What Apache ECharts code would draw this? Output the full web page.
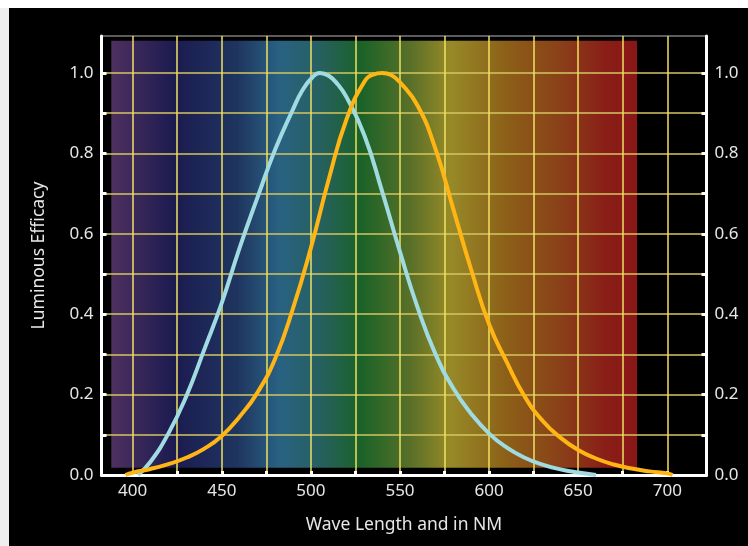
<!DOCTYPE html>
<html>
<head>
<meta charset="utf-8">
<script src="https://cdn.jsdelivr.net/npm/echarts@6/dist/echarts.min.js"></script>
<style>
  html, body { margin: 0; padding: 0; background: #fff; }
  #leftband { position: absolute; left: 0; top: 8px; width: 9px; bottom: 0; background: #efefef; }
  #frame { position: absolute; left: 9px; top: 8px; right: 0; bottom: 0; background: #000; }
  #chart { position: absolute; left: 0; top: 0; width: 748px; height: 546px; }
</style>
</head>
<body>
<div id="leftband"></div>
<div id="frame"></div>
<div id="chart"></div>
<script>
// scotopic (night) curve, cyan
const scotopicNm  = [403, 410, 420, 430, 440, 450, 460, 470, 480, 490, 495, 500, 505, 510, 515, 520, 530, 540, 550, 560, 570, 580, 590, 600, 610, 620, 630, 640, 650, 660];
const scotopicVal = [0.0, 0.033, 0.103, 0.195, 0.31, 0.428, 0.565, 0.69, 0.81, 0.91, 0.955, 0.985, 1.0, 0.993, 0.972, 0.94, 0.845, 0.705, 0.555, 0.415, 0.30, 0.215, 0.152, 0.103, 0.068, 0.043, 0.026, 0.014, 0.006, 0.0];

// photopic (day) curve, orange
const photopicNm  = [396, 400, 410, 420, 430, 440, 450, 460, 470, 480, 490, 500, 510, 520, 530, 535, 540, 545, 550, 560, 570, 580, 590, 600, 610, 620, 630, 640, 650, 660, 670, 680, 690, 700, 703];
const photopicVal = [0.0, 0.006, 0.015, 0.027, 0.043, 0.065, 0.097, 0.145, 0.205, 0.29, 0.415, 0.565, 0.735, 0.885, 0.978, 0.996, 1.0, 0.995, 0.977, 0.918, 0.81, 0.66, 0.51, 0.375, 0.28, 0.195, 0.135, 0.093, 0.062, 0.041, 0.026, 0.016, 0.009, 0.004, 0.0];

// spectrum band behind the curves
const spectrumNm = [388, 683];
const spectrumV  = [0.018, 1.08];
const spectrumStops = [
  [0.00, '#4e3060'], [0.12, '#1b1b50'], [0.24, '#1f3560'], [0.32, '#296282'],
  [0.40, '#26605e'], [0.475, '#1a6228'], [0.57, '#5a7028'], [0.645, '#978a28'],
  [0.75, '#8c6018'], [0.855, '#8a4018'], [0.94, '#891e18'], [1.00, '#8a1616']
];

const xTicks  = [400, 425, 450, 475, 500, 525, 550, 575, 600, 625, 650, 675, 700];
const xLabels = [400, 450, 500, 550, 600, 650, 700];
const yTicks  = [0, 0.1, 0.2, 0.3, 0.4, 0.5, 0.6, 0.7, 0.8, 0.9, 1.0];
const yLabels = [0, 0.2, 0.4, 0.6, 0.8, 1.0];

const FONT = 'Noto Sans';
const TXT = '#e6e6e6';

const chart = echarts.init(document.getElementById('chart'), null, { renderer: 'canvas' });

const yAxisBase = {
  type: 'value',
  min: 0,
  max: 1.092,
  z: 1,
  axisLine: { show: true, lineStyle: { color: '#fff', width: 3 } },
  axisTick: { show: true, inside: true, length: 5, customValues: yTicks, lineStyle: { color: '#fff', width: 3 } },
  axisLabel: {
    customValues: yLabels, color: TXT, fontSize: 17, fontFamily: FONT, margin: 8,
    formatter: v => v.toFixed(1)
  }
};

chart.setOption({
  backgroundColor: 'transparent',
  animation: false,
  grid: {
    left: 101.5, right: 41.5, top: 36, bottom: 71,
    show: true, backgroundColor: '#000', borderColor: '#b8b8b8', borderWidth: 1
  },
  xAxis: {
    type: 'value',
    min: 382.5,
    max: 722,
    z: 1,
    name: 'Wave Length and in NM',
    nameLocation: 'middle',
    nameGap: 41,
    nameTextStyle: { color: TXT, fontSize: 17.5, fontFamily: FONT },
    axisLine: { show: true, onZero: false, lineStyle: { color: '#fff', width: 3 } },
    axisTick: { show: true, inside: true, length: 4, customValues: xTicks, lineStyle: { color: '#fff', width: 3 } },
    axisLabel: { customValues: xLabels, color: TXT, fontSize: 17, fontFamily: FONT, margin: 8 },
    splitLine: { show: true, lineStyle: { color: '#f0e060', width: 1.5 } }
  },
  yAxis: [
    Object.assign({}, yAxisBase, {
      position: 'left',
      name: 'Luminous Efficacy',
      nameLocation: 'middle',
      nameGap: 53.5,
      nameTextStyle: { color: TXT, fontSize: 17.5, fontFamily: FONT },
      splitLine: { show: true, lineStyle: { color: '#d4c662', width: 1.5 } }
    }),
    Object.assign({}, yAxisBase, {
      position: 'right',
      splitLine: { show: false }
    })
  ],
  series: [
    {
      name: 'spectrum',
      type: 'line',
      data: [],
      z: 0,
      silent: true,
      markArea: {
        silent: true,
        z: 0.5,
        itemStyle: {
          color: {
            type: 'linear', x: 0, y: 0, x2: 1, y2: 0,
            colorStops: spectrumStops.map(s => ({ offset: s[0], color: s[1] }))
          }
        },
        data: [[
          { coord: [spectrumNm[0], spectrumV[1]] },
          { coord: [spectrumNm[1], spectrumV[0]] }
        ]]
      }
    },
    {
      name: 'Scotopic',
      type: 'line',
      smooth: 0.5,
      symbol: 'none',
      z: 3,
      lineStyle: { color: '#a0dbe2', width: 4 },
      data: scotopicNm.map((x, i) => [x, scotopicVal[i]])
    },
    {
      name: 'Photopic',
      type: 'line',
      smooth: 0.5,
      symbol: 'none',
      z: 3,
      lineStyle: { color: '#ffb514', width: 4 },
      data: photopicNm.map((x, i) => [x, photopicVal[i]])
    }
  ]
});
</script>
</body>
</html>
